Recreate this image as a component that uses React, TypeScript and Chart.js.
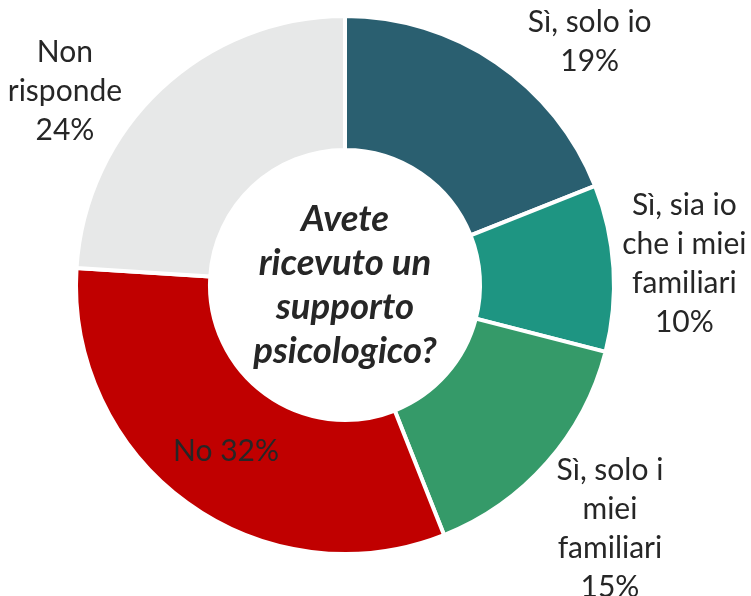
import React, { useEffect, useRef } from 'react';
import { Chart, registerables } from 'chart.js';

Chart.register(...registerables);

// ---- data ----
const categories = ['Sì, solo io', 'Sì, sia io che i miei familiari', 'Sì, solo i miei familiari', 'No', 'Non risponde'];
const values = [19, 10, 15, 32, 24];
const colors = ['#2A5F70', '#1E9582', '#359A69', '#C00000', '#E7E8E8'];
// line breaks of each category label (percentage appended as its own line, or inline)
const categoryLines = [['Sì, solo io'], ['Sì, sia io', 'che i miei', 'familiari'], ['Sì, solo i', 'miei', 'familiari'], ['No'], ['Non', 'risponde']];
const inlinePercent = [false, false, false, true, false];
const centerTitle = ['Avete', 'ricevuto un', 'supporto', 'psicologico?'];

// label placement relative to each arc: [angle shift in degrees, distance as fraction of outer radius]
const labelPlacement: [number, number][] = [
  [11, 1.282],
  [0, 1.264],
  [1.2, 1.338],
  [-0.4, 0.76],
  [-12.2, 1.265],
];

const TEXT_COLOR = '#262626';
const LABEL_FONT = '30px Lato';
const LABEL_LINE = 39;
const CENTER_FONT = 'italic bold 36.5px Lato';
const CENTER_LINE = 44;

const labelPlugin = {
  id: 'customLabels',
  afterDraw(chart: any) {
    const ctx = chart.ctx;
    const meta = chart.getDatasetMeta(0);
    ctx.save();
    ctx.textAlign = 'center';
    ctx.textBaseline = 'middle';
    ctx.fillStyle = TEXT_COLOR;
    let cx = 0, cy = 0;
    meta.data.forEach((arc: any, i: number) => {
      const p = arc.getProps(['x', 'y', 'startAngle', 'endAngle', 'outerRadius'], true);
      cx = p.x; cy = p.y;
      const mid = (p.startAngle + p.endAngle) / 2 + (labelPlacement[i][0] * Math.PI) / 180;
      const d = labelPlacement[i][1] * p.outerRadius;
      const lx = p.x + Math.cos(mid) * d;
      const ly = p.y + Math.sin(mid) * d;
      const pct = `${values[i]}%`;
      let lines = categoryLines[i].slice();
      if (inlinePercent[i]) lines[lines.length - 1] = lines[lines.length - 1] + ' ' + pct;
      else lines.push(pct);
      ctx.font = LABEL_FONT;
      const start = ly - ((lines.length - 1) * LABEL_LINE) / 2;
      lines.forEach((t, j) => ctx.fillText(t, lx, start + j * LABEL_LINE));
    });
    ctx.font = CENTER_FONT;
    const s = cy - ((centerTitle.length - 1) * CENTER_LINE) / 2;
    centerTitle.forEach((t, j) => ctx.fillText(t, cx, s + j * CENTER_LINE));
    ctx.restore();
  },
};

export default function App() {
  const ref = useRef<HTMLCanvasElement | null>(null);
  useEffect(() => {
    document.body.style.margin = '0';
    if (!ref.current) return;
    const chart = new Chart(ref.current, {
      type: 'doughnut',
      data: {
        labels: categories,
        datasets: [
          {
            data: values,
            backgroundColor: colors,
            borderColor: '#ffffff',
            borderWidth: 4,
          },
        ],
      },
      options: {
        animation: false,
        responsive: false,
        cutout: '50.2%',
        layout: { padding: { left: 74, right: 135, top: 14, bottom: 40 } },
        plugins: {
          legend: { display: false },
          tooltip: { enabled: false },
        },
      },
      plugins: [labelPlugin],
    });
    return () => chart.destroy();
  }, []);
  return (
    <div style={{ width: 751, height: 596 }}>
      <canvas ref={ref} width={751} height={596} style={{ width: 751, height: 596, display: 'block' }} />
    </div>
  );
}
